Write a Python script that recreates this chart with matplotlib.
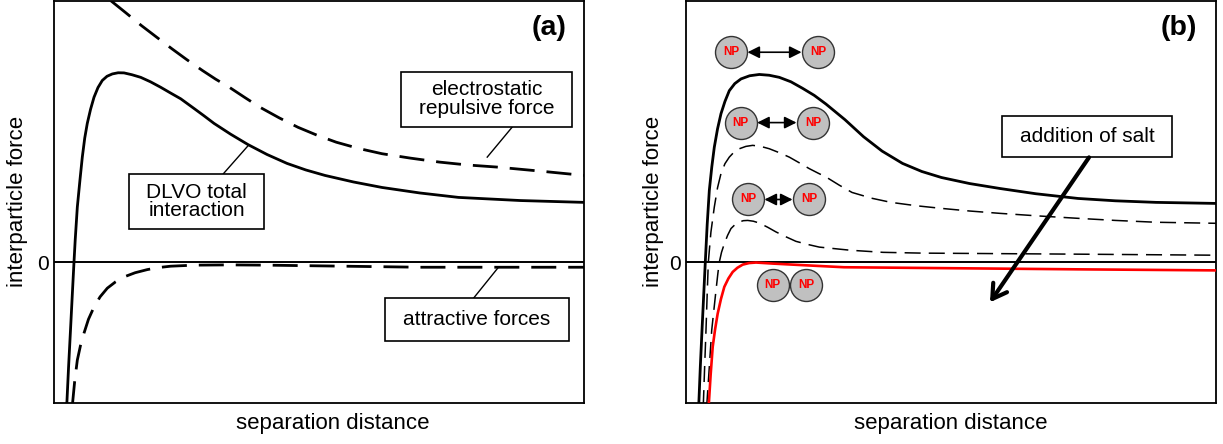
import matplotlib
matplotlib.use("Agg")
import matplotlib.pyplot as plt
from matplotlib.patches import Rectangle

plt.rcParams['font.family'] = ['Liberation Sans', 'DejaVu Sans']

# ---- panel (a) data (x: separation, y: force, 0 = zero line) ----
dlvo_x = [0.240, 0.275, 0.311, 0.345, 0.377, 0.40, 0.44, 0.49, 0.534, 0.58, 0.628, 0.69,
          0.755, 0.83, 0.911, 1.00, 1.10, 1.21, 1.321, 1.47, 1.636, 1.82, 2.013, 2.20,
          2.391, 2.642, 2.83, 3.019, 3.33, 3.66, 4.02, 4.396, 4.75, 5.113, 5.65, 6.189,
          6.90, 7.632, 8.8, 10.0]
dlvo_y = [-5.5, -4.0, -2.60, -1.25, 0.0, 0.85, 2.11, 3.15, 4.02, 4.75, 5.31, 5.85,
          6.31, 6.68, 6.95, 7.11, 7.20, 7.245, 7.24, 7.17, 7.07, 6.90, 6.69, 6.47,
          6.25, 5.88, 5.60, 5.31, 4.90, 4.50, 4.12, 3.78, 3.53, 3.32, 3.07, 2.86,
          2.65, 2.48, 2.36, 2.29]

elec_x = [1.072, 1.36, 1.649, 1.94, 2.226, 2.51, 2.802, 3.05, 3.308, 3.6, 3.883, 4.25,
          4.604, 4.96, 5.326, 5.75, 6.189, 6.73, 7.272, 7.8, 8.355, 9.2, 10.0]
elec_y = [10.0, 9.53, 9.05, 8.60, 8.16, 7.74, 7.33, 7.00, 6.69, 6.30, 5.93, 5.52,
          5.16, 4.86, 4.59, 4.35, 4.15, 3.98, 3.83, 3.72, 3.64, 3.48, 3.32]

attr_x = [0.345, 0.39, 0.44, 0.50, 0.566, 0.65, 0.755, 0.87, 1.006, 1.16, 1.321, 1.53,
          1.76, 1.98, 2.202, 2.642, 3.302, 4.019, 5.472, 6.906, 8.358, 10.0]
attr_y = [-5.5, -4.55, -3.74, -3.18, -2.71, -2.18, -1.71, -1.32, -0.99, -0.75, -0.56, -0.40,
          -0.28, -0.20, -0.15, -0.11, -0.10, -0.11, -0.15, -0.19, -0.19, -0.19]

# ---- panel (b) data ----
b_solid_x = [0.240, 0.27, 0.302, 0.334, 0.364, 0.40, 0.44, 0.487, 0.534, 0.595, 0.66,
             0.735, 0.817, 0.92, 1.038, 1.20, 1.383, 1.57, 1.76, 1.98, 2.20, 2.42,
             2.64, 3.0, 3.35, 3.7, 4.085, 4.45, 4.821, 5.35, 5.925, 6.6, 7.396, 8.1,
             8.868, 10.0]
b_solid_y = [-5.5, -4.0, -2.60, -1.25, 0.0, 1.45, 2.75, 3.65, 4.40, 5.10, 5.68,
             6.15, 6.56, 6.83, 7.01, 7.13, 7.18, 7.15, 7.07, 6.90, 6.65, 6.38,
             6.05, 5.45, 4.80, 4.25, 3.78, 3.47, 3.24, 3.01, 2.82, 2.62, 2.44, 2.35,
             2.29, 2.25]

b_dash1_x = [0.326, 0.35, 0.377, 0.40, 0.421, 0.47, 0.534, 0.595, 0.66, 0.735, 0.817,
             0.91, 1.006, 1.13, 1.258, 1.41, 1.572, 1.76, 1.949, 2.14, 2.326, 2.49,
             2.642, 2.89, 3.132, 3.5, 3.868, 4.35, 4.821, 5.35, 5.925, 6.66, 7.396,
             8.1, 8.868, 10.0]
b_dash1_y = [-5.5, -4.1, -2.60, -1.2, 0.0, 1.15, 2.11, 2.85, 3.39, 3.77, 4.02,
             4.22, 4.34, 4.43, 4.47, 4.43, 4.34, 4.19, 4.02, 3.80, 3.58, 3.41,
             3.26, 2.95, 2.67, 2.45, 2.29, 2.16, 2.06, 1.96, 1.87, 1.77, 1.68,
             1.60, 1.53, 1.49]

b_dash2_x = [0.391, 0.44, 0.485, 0.53, 0.566, 0.60, 0.628, 0.67, 0.723, 0.785, 0.849,
             0.93, 1.006, 1.08, 1.164, 1.27, 1.383, 1.54, 1.698, 1.89, 2.075, 2.30,
             2.515, 3.1, 3.717, 4.45, 5.189, 7.396, 10.0]
b_dash2_y = [-5.5, -4.0, -2.60, -1.75, -1.07, -0.45, 0.0, 0.38, 0.71, 1.03, 1.29,
             1.45, 1.54, 1.59, 1.60, 1.57, 1.50, 1.34, 1.16, 0.97, 0.80, 0.68,
             0.58, 0.46, 0.38, 0.35, 0.34, 0.31, 0.27]

b_red_x = [0.428, 0.465, 0.504, 0.55, 0.598, 0.66, 0.723, 0.80, 0.881, 0.97, 1.07,
           1.19, 1.321, 1.636, 2.202, 2.981, 5.189, 7.396, 10.0]
b_red_y = [-5.5, -4.30, -3.23, -2.55, -1.96, -1.40, -0.94, -0.62, -0.37, -0.21, -0.09,
           -0.03, -0.01, -0.05, -0.11, -0.19, -0.23, -0.27, -0.31]

# nanoparticle pairs
np_left_x = [0.849, 1.032, 1.170, 1.636]
np_right_x = [2.491, 2.396, 2.321, 2.264]
np_y = [8.03, 5.34, 2.40, -0.88]
np_arrow = [True, True, True, False]
np_r = 0.311

fig = plt.figure(figsize=(12.23, 4.44), dpi=100)
ax_a = fig.add_axes([54 / 1223, 41 / 444, 530 / 1223, 402.3 / 444])
ax_b = fig.add_axes([686 / 1223, 41 / 444, 530 / 1223, 402.3 / 444])

for ax, lx, xl in [(ax_a, -0.068, 0.526), (ax_b, -0.061, 0.499)]:
    ax.set_xlim(0, 10)
    ax.set_ylim(-5.38, 10.0)
    ax.set_xticks([])
    ax.set_yticks([0])
    ax.set_yticklabels(['0'], fontsize=15)
    ax.tick_params(axis='y', length=0, pad=3.5)
    for s in ax.spines.values():
        s.set_linewidth(1.3)
    ax.axhline(0, color='black', lw=1.4, zorder=2)
    ax.set_ylabel('interparticle force', fontsize=16, va='center')
    ax.yaxis.set_label_coords(lx, 0.5)
    ax.set_xlabel('separation distance', fontsize=16, va='center')
    ax.xaxis.set_label_coords(xl, -0.05)

line_kw = dict(solid_joinstyle='round', dash_joinstyle='round', zorder=3)

# ---- panel (a) ----
ax_a.plot(dlvo_x, dlvo_y, color='black', lw=2.0, **line_kw)
ax_a.plot(elec_x, elec_y, color='black', lw=2.0, dashes=(9, 4.3), **line_kw)
ax_a.plot(attr_x, attr_y, color='black', lw=2.0, dashes=(9, 4.3), **line_kw)

def label_box(ax, x0, x1, y0, y1, txt):
    ax.add_patch(Rectangle((x0, y0), x1 - x0, y1 - y0, facecolor='white',
                           edgecolor='black', lw=1.2, zorder=4))
    ax.text((x0 + x1) / 2, (y0 + y1) / 2, txt, ha='center', va='center',
            fontsize=15, linespacing=0.95, zorder=5)

label_box(ax_a, 6.547, 9.774, 5.19, 7.29, 'electrostatic\nrepulsive force')
label_box(ax_a, 1.415, 3.962, 1.26, 3.36, 'DLVO total\ninteraction')
label_box(ax_a, 6.245, 9.717, -3.015, -1.374, 'attractive forces')
ax_a.plot([8.174, 8.642], [4.02, 5.16], color='black', lw=1.0, zorder=3)
ax_a.plot([3.198, 3.668], [3.39, 4.47], color='black', lw=1.0, zorder=3)
ax_a.plot([7.921, 8.390], [-1.36, -0.18], color='black', lw=1.0, zorder=3)
ax_a.text(9.34, 8.97, '(a)', fontsize=20.5, fontweight='bold', ha='center', va='center')

# ---- panel (b) ----
ax_b.plot(b_solid_x, b_solid_y, color='black', lw=2.0, **line_kw)
ax_b.plot(b_dash1_x, b_dash1_y, color='black', lw=1.1, dashes=(10.5, 5.3), **line_kw)
ax_b.plot(b_dash2_x, b_dash2_y, color='black', lw=1.1, dashes=(10.5, 5.3), **line_kw)
ax_b.plot(b_red_x, b_red_y, color='red', lw=1.9, **line_kw)

ax_b.scatter(np_left_x + np_right_x, np_y + np_y, s=530, facecolor='#c0c0c0',
             edgecolor='#333333', linewidth=1.0, zorder=6)
for xl_, xr_, y_, arr in zip(np_left_x, np_right_x, np_y, np_arrow):
    for xc in (xl_, xr_):
        ax_b.text(xc, y_, 'NP', color='red', fontsize=8.5, fontweight='bold',
                  ha='center', va='center', zorder=7)
    if arr:
        ax_b.annotate('', xy=(xr_ - np_r, y_), xytext=(xl_ + np_r, y_),
                      arrowprops=dict(arrowstyle='<|-|>', color='black', lw=1.2,
                                      mutation_scale=18, shrinkA=0, shrinkB=0),
                      zorder=6)

label_box(ax_b, 5.962, 9.170, 4.008, 5.573, 'addition of salt')
ax_b.annotate('', xy=(5.736, -1.53), xytext=(7.604, 4.01),
              arrowprops=dict(arrowstyle='->,head_length=0.5,head_width=0.3',
                              color='black', lw=3, mutation_scale=20,
                              shrinkA=0, shrinkB=0), zorder=5)
ax_b.text(9.29, 8.97, '(b)', fontsize=20.5, fontweight='bold', ha='center', va='center')

fig.savefig('out.png', dpi=100)
